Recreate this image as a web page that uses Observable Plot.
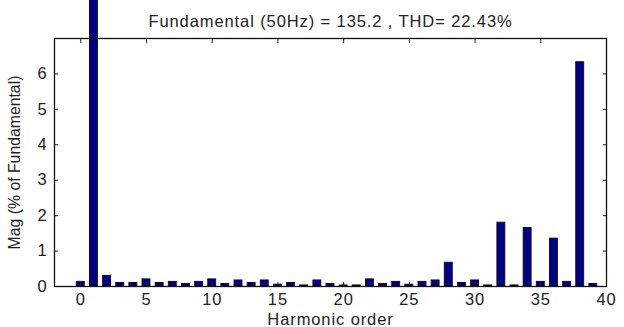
<!DOCTYPE html>
<html>
<head>
<meta charset="utf-8">
<script src="https://cdn.jsdelivr.net/npm/d3@7"></script>
<script src="https://cdn.jsdelivr.net/npm/@observablehq/plot@0.6"></script>
<style>
  html, body { margin: 0; padding: 0; background: white; }
  #chart svg {
    display: block;
    overflow: hidden;
    background: linear-gradient(#f0f0f0, #f0f0f0) 6px 10px / 618px 317px no-repeat, white;
    font-family: "Liberation Sans", Arial, sans-serif;
    letter-spacing: 0.9px;
  }
</style>
</head>
<body>
<div id="chart"></div>
<script>
const titleText = "Fundamental (50Hz) = 135.2 , THD= 22.43%";
const xLabel = "Harmonic order";
const yLabel = "Mag (% of Fundamental)";
const harmonicOrder = [0,1,2,3,4,5,6,7,8,9,10,11,12,13,14,15,16,17,18,19,20,21,22,23,24,25,26,27,28,29,30,31,32,33,34,35,36,37,38,39];
const magnitude = [0.13,100,0.30,0.10,0.10,0.20,0.10,0.13,0.07,0.13,0.20,0.07,0.17,0.10,0.17,0.05,0.10,0.03,0.17,0.07,0.03,0.03,0.20,0.07,0.13,0.05,0.13,0.17,0.67,0.10,0.17,0.03,1.80,0.03,1.65,0.13,1.35,0.13,6.33,0.07];
const xTicks = [0,5,10,15,20,25,30,35,40];
const yTicks = [0,1,2,3,4,5,6];

const data = harmonicOrder.map((h, i) => ({h, v: magnitude[i]}));
const halfWidth = 0.3;

const plot = Plot.plot({
  width: 624,
  height: 327,
  marginLeft: 54,
  marginRight: 18,
  marginTop: 38,
  marginBottom: 41,
  style: {fontSize: "16.5px", color: "#222", fontFamily: "'Liberation Sans', Arial, sans-serif", background: "transparent"},
  x: {domain: [-2, 40]},
  y: {domain: [0, 7]},
  marks: [
    Plot.frame({fill: "white", stroke: null}),
    Plot.rectY(data, {x1: d => d.h - halfWidth, x2: d => d.h + halfWidth, y: "v", fill: "#000088", stroke: "#111", strokeWidth: 1}),
    Plot.axisX(xTicks, {anchor: "bottom", tickSize: -4, tickPadding: 11, label: xLabel, labelAnchor: "center", labelArrow: "none", labelOffset: 38, stroke: "#222"}),
    Plot.axisX(xTicks, {anchor: "top", tickSize: -4, tickFormat: () => "", label: null, stroke: "#222"}),
    Plot.axisY(yTicks, {anchor: "left", tickSize: -4, tickPadding: 11, label: yLabel, labelAnchor: "center", labelArrow: "none", labelOffset: 46, stroke: "#222"}),
    Plot.axisY(yTicks, {anchor: "right", tickSize: -4, tickFormat: () => "", label: null, stroke: "#222"}),
    Plot.frame({stroke: "#111", strokeWidth: 1.3}),
    Plot.text([titleText], {frameAnchor: "top", dy: -23, fontSize: 16.5, fill: "#222"})
  ]
});
d3.select(plot).selectAll("text")
  .filter(function() { return this.textContent === yLabel; })
  .style("letter-spacing", "0px")
  .style("font-size", "15.8px");
document.getElementById("chart").appendChild(plot);
</script>
</body>
</html>
